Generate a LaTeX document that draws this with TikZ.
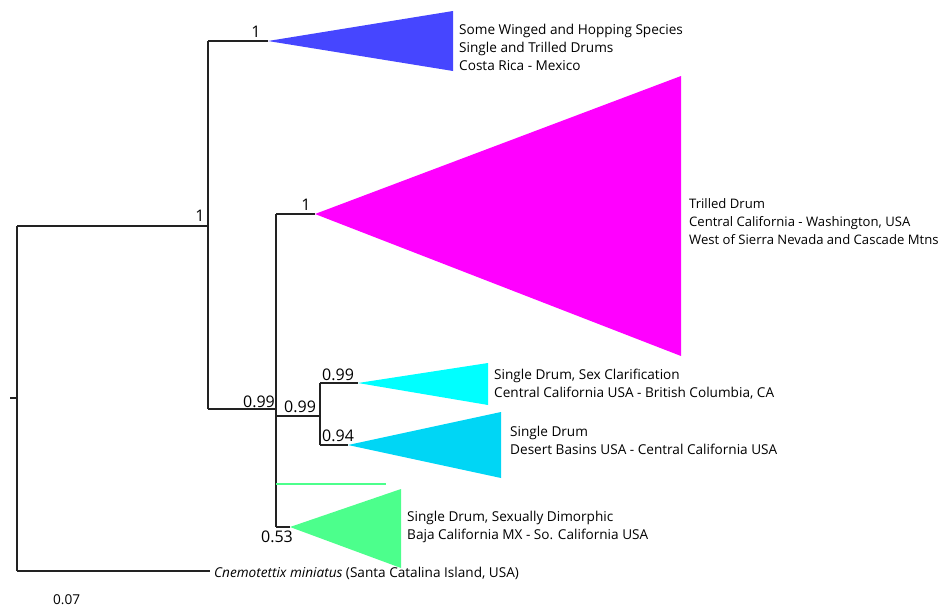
\documentclass[tikz,border=0pt]{standalone}
\usepackage{fontspec}
\setmainfont{Open Sans}
\definecolor{cblue}{HTML}{4646FF}
\definecolor{cmag}{HTML}{FF00FF}
\definecolor{ccyan}{HTML}{00FFFF}
\definecolor{csky}{HTML}{00D6F5}
\definecolor{cgreen}{HTML}{4CFF8C}
\definecolor{cbranch}{HTML}{222222}
\begin{document}
\begin{tikzpicture}[x=1pt,y=-1pt,
  branch/.style={draw=cbranch,line width=1.4pt},
  support/.style={inner sep=0pt,font=\fontsize{16}{18}\selectfont},
  cladelabel/.style={anchor=west,align=left,inner sep=0pt,font=\fontsize{13.6}{18}\selectfont}]
\useasboundingbox (0,0) rectangle (944,608);
% tree coordinates
\coordinate (stub) at (10,398);
\coordinate (root) at (17,398);
\coordinate (rootTop) at (17,226);
\coordinate (rootBot) at (17,571);
\coordinate (nA) at (208,226);
\coordinate (nAtop) at (208,41);
\coordinate (nAbot) at (208,409);
\coordinate (tBlue) at (268,41);
\coordinate (nB) at (276,409);
\coordinate (nBtop) at (276,214);
\coordinate (nBbot) at (276,527);
\coordinate (tMag) at (315,214);
\coordinate (nC) at (276,416);
\coordinate (nCr) at (320,416);
\coordinate (nCtop) at (320,383);
\coordinate (nCbot) at (320,445);
\coordinate (tCyan) at (358,383);
\coordinate (tSky) at (348,445);
\coordinate (gL) at (276,484);
\coordinate (gR) at (386,484);
\coordinate (tGreen) at (290,527);
\coordinate (outEnd) at (210,571);
% branches
\draw[branch] (stub) -- (root);
\draw[branch] (rootTop) -- (rootBot);
\draw[branch] (rootTop) -- (nA);
\draw[branch] (nAtop) -- (nAbot);
\draw[branch] (nAtop) -- (tBlue);
\draw[branch] (nAbot) -- (nB);
\draw[branch] (nBtop) -- (nBbot);
\draw[branch] (nBtop) -- (tMag);
\draw[branch] (nC) -- (nCr);
\draw[branch] (nCtop) -- (nCbot);
\draw[branch] (nCtop) -- (tCyan);
\draw[branch] (nCbot) -- (tSky);
\draw[branch] (nBbot) -- (tGreen);
\draw[branch] (rootBot) -- (outEnd);
\draw[draw=cgreen,line width=2.6pt] (gL) -- (gR);
% clades
\fill[cblue] (tBlue) -- (453,11) -- (453,71) -- cycle;
\fill[cmag] (tMag) -- (681,76) -- (681,356) -- cycle;
\fill[ccyan] (tCyan) -- (488,363) -- (488,405) -- cycle;
\fill[csky] (tSky) -- (501,412) -- (501,478) -- cycle;
\fill[cgreen] (tGreen) -- (401,489) -- (401,568) -- cycle;
% support values
\node[support,anchor=south] (s1) at (200,222) {1};
\node[support,anchor=south] (s2) at (256,38) {1};
\node[support,anchor=south east] (s3) at (275,408) {0.99};
\node[support,anchor=south] (s4) at (306,211) {1};
\node[support,anchor=south west] (s5) at (284,413) {0.99};
\node[support,anchor=south west] (s6) at (322,381) {0.99};
\node[support,anchor=south west] (s7) at (322,442) {0.94};
\node[support,anchor=north] (s8) at (277,531) {0.53};
% labels
\node[cladelabel] (lBlue) at (459,47) {Some Winged and Hopping Species\\Single and Trilled Drums\\Costa Rica - Mexico};
\node[cladelabel,font=\fontsize{13.1}{18}\selectfont] (lMag) at (689,222) {Trilled Drum\\Central California - Washington, USA\\West of Sierra Nevada and Cascade Mtns};
\node[cladelabel] (lCyan) at (494,384) {Single Drum, Sex Clarification\\Central California USA - British Columbia, CA};
\node[cladelabel] (lSky) at (510,440) {Single Drum\\Desert Basins USA - Central California USA};
\node[cladelabel] (lGreen) at (407,527) {Single Drum, Sexually Dimorphic\\Baja California MX - So. California USA};
\node[cladelabel] (lOut) at (214,573) {\textit{Cnemotettix miniatus} (Santa Catalina Island, USA)};
\node[cladelabel,font=\fontsize{13.6}{14}\selectfont] (scale) at (53,600) {0.07};
\end{tikzpicture}
\end{document}
